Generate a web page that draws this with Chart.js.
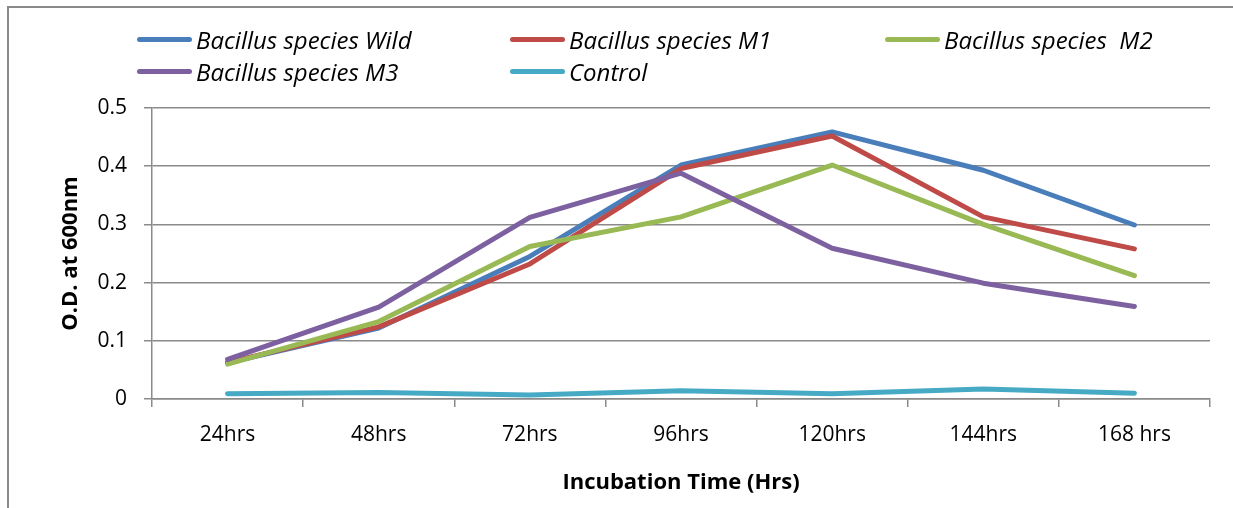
<!DOCTYPE html>
<html>
<head>
<meta charset="utf-8">
<script src="https://cdn.jsdelivr.net/npm/chart.js@4"></script>
<style>
  html, body { margin: 0; padding: 0; background: #fff; }
  body { width: 1233px; height: 508px; position: relative; overflow: hidden; font-family: "Open Sans", sans-serif; }
  #frame { position: absolute; left: 7px; top: 6px; width: 1260px; height: 530px; border: 2px solid #8a8a8a; box-sizing: border-box; }
  #chart { position: absolute; left: 0; top: 0; }
  #legend { position: absolute; left: 0; top: 0; width: 1233px; height: 100px; }
  .item { position: absolute; display: flex; align-items: center; font-style: italic; font-size: 24px; color: #000; white-space: pre; height: 30px; }
  .swatch { width: 55px; height: 5px; border-radius: 3px; margin-right: 4px; }
</style>
</head>
<body>
<div id="frame"></div>
<canvas id="chart" width="1233" height="508"></canvas>
<div id="legend"></div>
<script>
const categories = ["24hrs", "48hrs", "72hrs", "96hrs", "120hrs", "144hrs", "168 hrs"];
const seriesNames = ["Bacillus species Wild", "Bacillus species M1", "Bacillus species  M2", "Bacillus species M3", "Control"];
const seriesColors = ["#4a7ebb", "#be4b48", "#98b954", "#7d60a0", "#46aac5"];

const wild = [0.062, 0.122, 0.245, 0.402, 0.459, 0.393, 0.299];
const m1 = [0.063, 0.124, 0.232, 0.396, 0.452, 0.313, 0.258];
const m2 = [0.060, 0.133, 0.262, 0.313, 0.402, 0.300, 0.212];
const m3 = [0.068, 0.158, 0.312, 0.388, 0.259, 0.199, 0.159];
const control = [0.009, 0.011, 0.007, 0.014, 0.009, 0.017, 0.010];

const yTicks = [0, 0.1, 0.2, 0.3, 0.4, 0.5];

const allValues = [wild, m1, m2, m3, control];

// legend laid out like the original: 3 columns, 2 rows
const legendPos = [[137, 40], [510, 40], [885, 40], [137, 72], [510, 72]];
const legend = document.getElementById("legend");
seriesNames.forEach((name, i) => {
  const item = document.createElement("div");
  item.className = "item";
  item.style.left = legendPos[i][0] + "px";
  item.style.top = (legendPos[i][1] - 16) + "px";
  const sw = document.createElement("span");
  sw.className = "swatch";
  sw.style.background = seriesColors[i];
  const txt = document.createElement("span");
  txt.textContent = name;
  item.appendChild(sw);
  item.appendChild(txt);
  legend.appendChild(item);
});

const gridColor = "#8a8a8a";
const tickFont = { family: "'Open Sans', sans-serif", size: 21 };
const titleFont = { family: "'Open Sans', sans-serif", size: 22, weight: "bold" };

const ctx = document.getElementById("chart").getContext("2d");
new Chart(ctx, {
  type: "line",
  data: {
    labels: categories,
    datasets: allValues.map((vals, i) => ({
      label: seriesNames[i],
      data: vals,
      borderColor: seriesColors[i],
      backgroundColor: seriesColors[i],
      borderWidth: 5,
      borderCapStyle: "round",
      borderJoinStyle: "round",
      pointRadius: 0,
      tension: 0,
      order: allValues.length - i
    }))
  },
  options: {
    responsive: false,
    animation: false,
    devicePixelRatio: 1,
    layout: { padding: { left: 54, top: 108, right: 23, bottom: 8 } },
    plugins: { legend: { display: false }, tooltip: { enabled: false } },
    scales: {
      x: {
        offset: true,
        grid: { offset: true, drawOnChartArea: false, drawTicks: true, tickLength: 8, color: gridColor, lineWidth: 1.5 },
        border: { color: gridColor, width: 1.5 },
        ticks: { color: "#000", font: tickFont, padding: 15, maxRotation: 0 },
        title: { display: true, text: "Incubation Time (Hrs)", color: "#000", font: titleFont },
        afterFit: s => { s.height = 101; }
      },
      y: {
        min: 0,
        max: 0.5,
        afterBuildTicks: s => { s.ticks = yTicks.map(v => ({ value: v })); },
        grid: { color: gridColor, lineWidth: 1.5, tickLength: 8 },
        border: { color: gridColor, width: 1.5 },
        ticks: { color: "#000", font: tickFont, padding: 17, callback: v => String(Number(v.toFixed(1))) },
        title: { display: true, text: "O.D. at 600nm", color: "#000", font: titleFont },
        afterFit: s => { s.width = 98; }
      }
    }
  }
});
</script>
</body>
</html>
